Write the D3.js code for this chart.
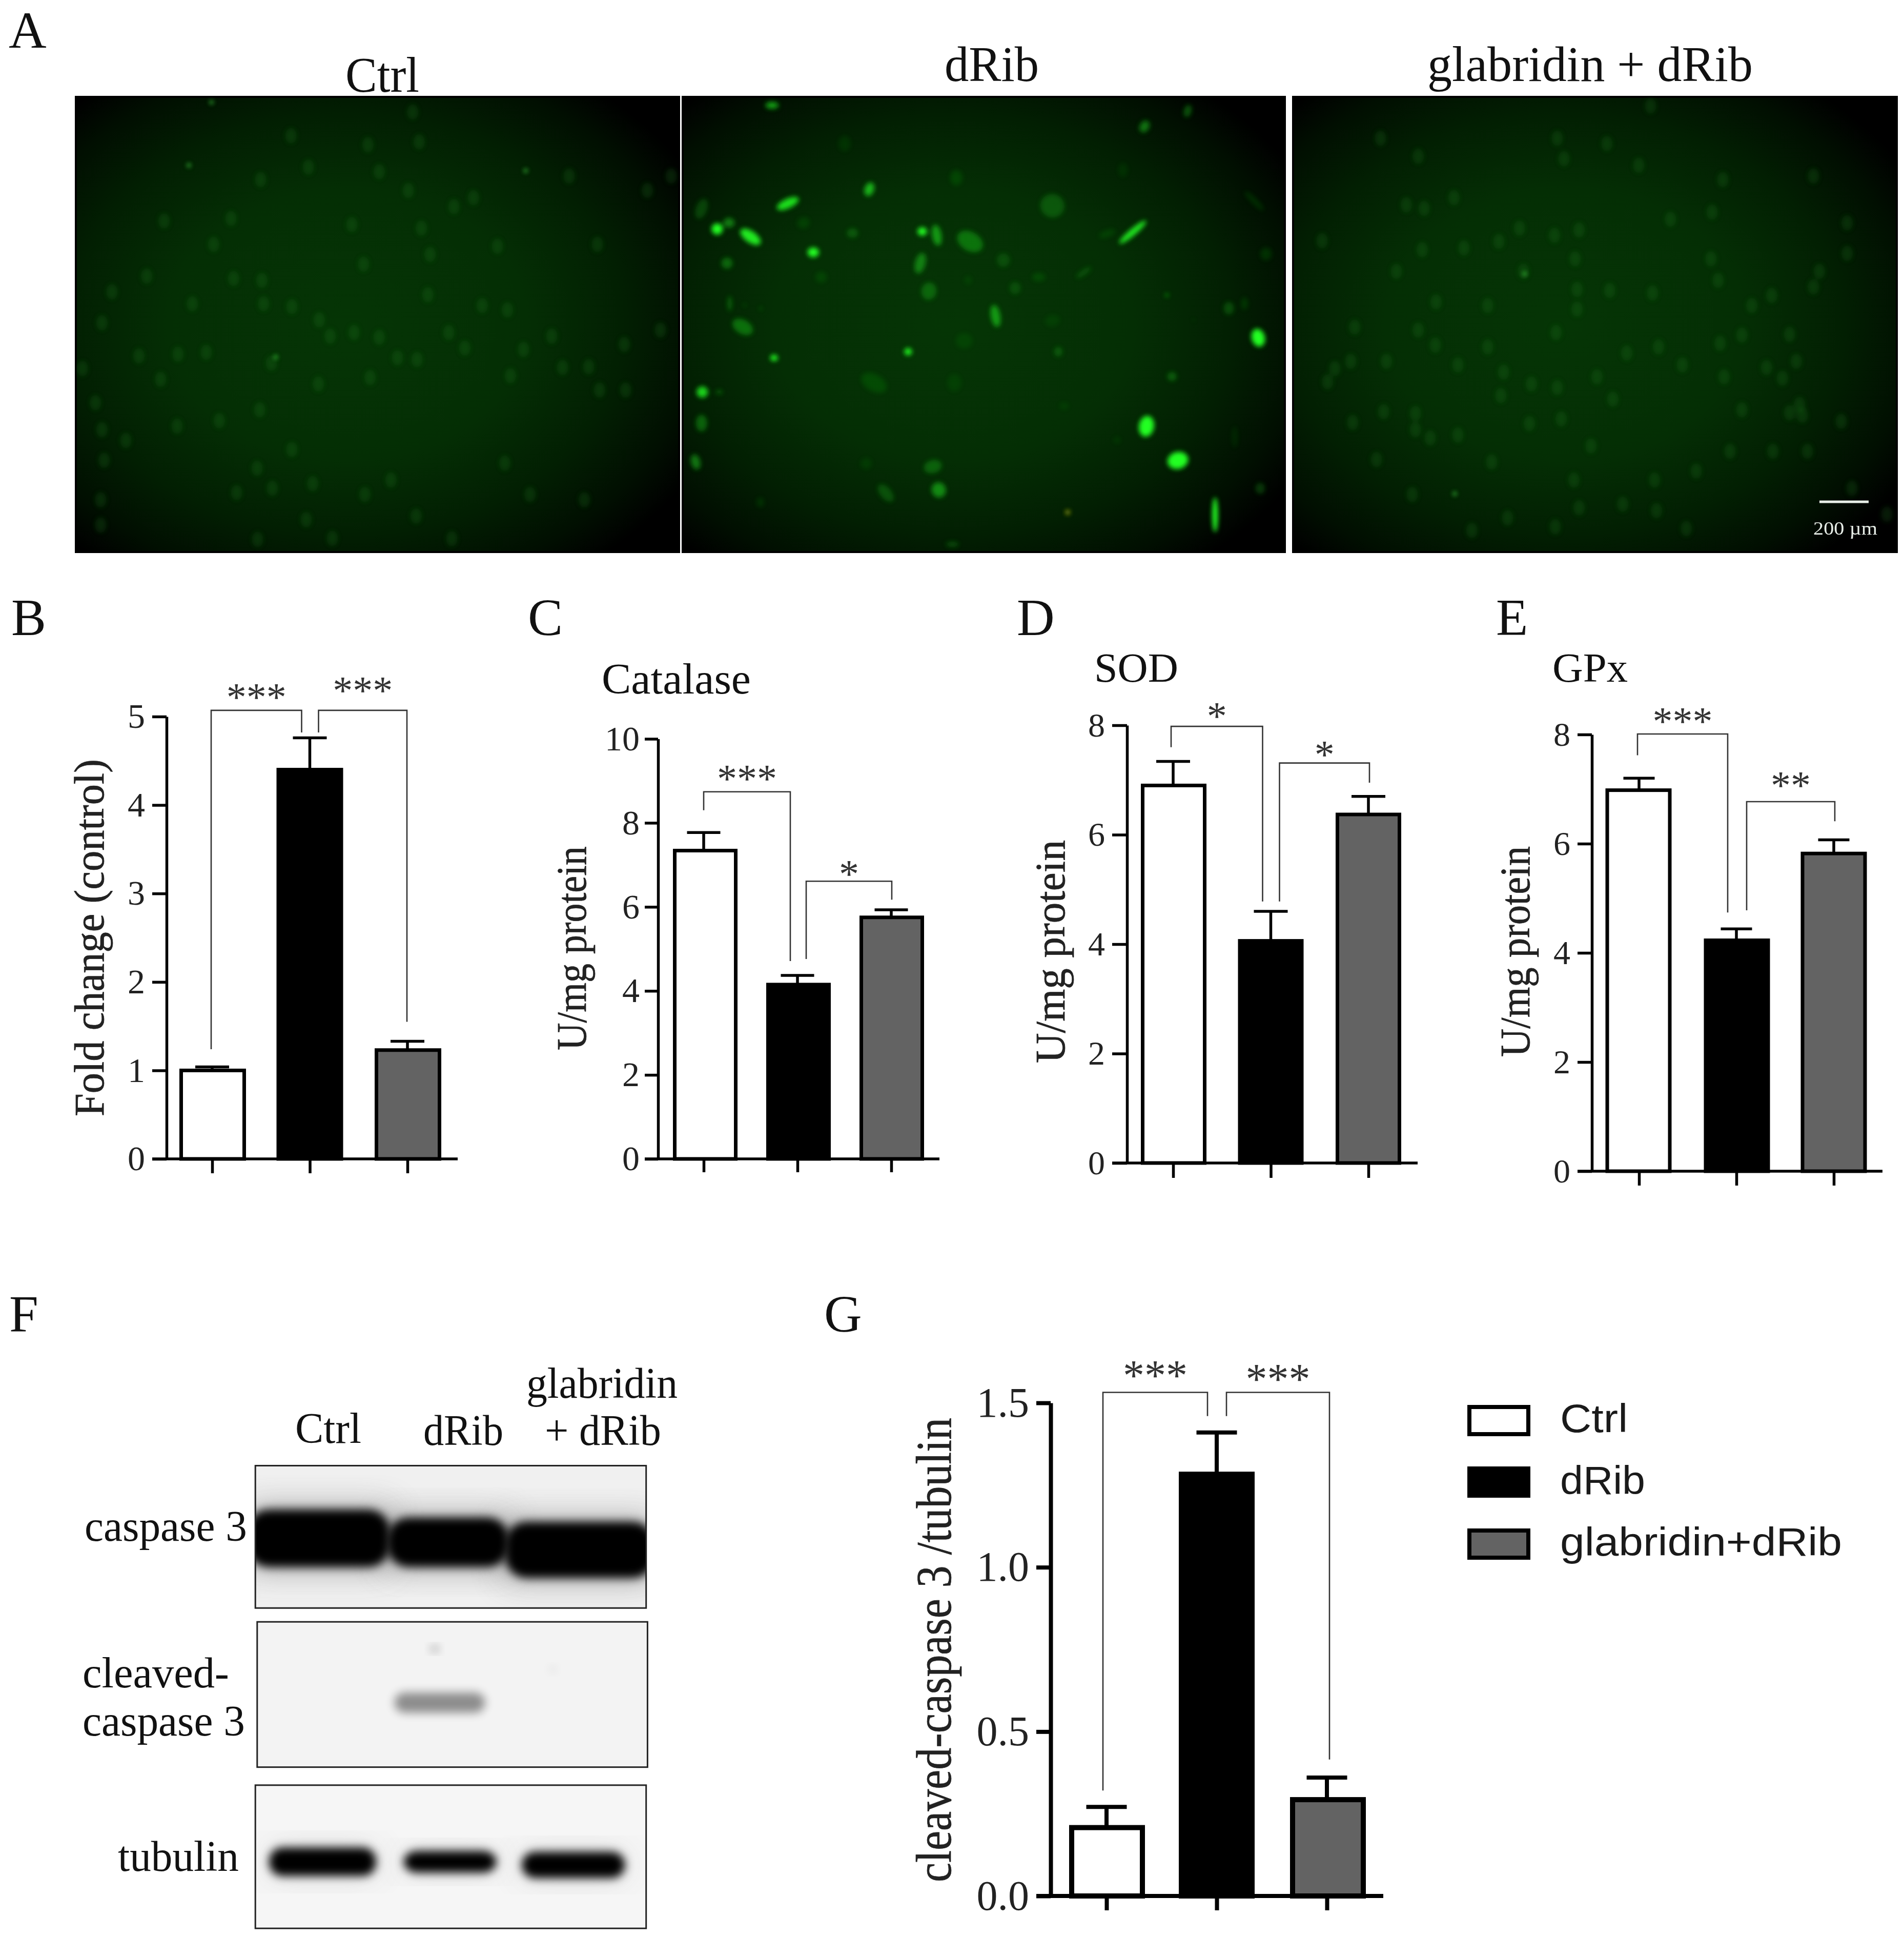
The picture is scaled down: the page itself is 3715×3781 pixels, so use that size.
<!DOCTYPE html>
<html>
<head>
<meta charset="utf-8">
<script src="https://cdn.jsdelivr.net/npm/d3@7"></script>
<style>
  html, body { margin: 0; background: #fff; overflow: hidden; }
  svg { display: block; }
</style>
</head>
<body>
<div id="chart"></div>
<script>
const width = 3715
const height = 3781
const serif = '"Liberation Serif", serif'
const sans = '"Liberation Sans", sans-serif'

const groups = ['Ctrl', 'dRib', 'glabridin+dRib']
const barFills = ['#fff', '#000', '#636363']

const foldChange = [1.0, 4.40, 1.23]
const foldChangeErr = [1.04, 4.76, 1.33]
const catalase = [7.34, 4.15, 5.75]
const catalaseErr = [7.77, 4.37, 5.93]
const sod = [6.90, 4.06, 6.37]
const sodErr = [7.34, 4.60, 6.70]
const gpx = [6.98, 4.23, 5.82]
const gpxErr = [7.20, 4.44, 6.07]
const cleaved = [0.208, 1.283, 0.293]
const cleavedErr = [0.271, 1.41, 0.36]

// significance brackets: top, left leg end, right leg end, star height (axis units), stars
const foldSig = [[5.07, 1.24, 4.82, 5.28, '***'], [5.07, 4.82, 1.55, 5.36, '***']]
const catalaseSig = [[8.74, 8.30, 4.71, 9.18, '***'], [6.61, 4.76, 6.17, 6.91, '*']]
const sodSig = [[7.98, 7.60, 4.78, 8.27, '*'], [7.31, 4.78, 6.95, 7.57, '*']]
const gpxSig = [[8.01, 7.62, 4.74, 8.34, '***'], [6.77, 4.78, 6.41, 7.17, '**']]
const cleavedSig = [[1.532, 0.321, 1.46, 1.60, '***'], [1.532, 1.46, 0.415, 1.589, '***']]

// micrograph cells: x, y, rx, ry, angle, brightness
const dribCells = [
  [130,490,12,16,-30,1],[160,470,12,14,0,.4],[215,515,12,34,-55,.9],[310,408,10,34,65,.85],
  [375,565,12,14,0,1],[518,362,10,20,20,.65],[270,92,14,10,0,.6],[275,905,8,9,0,1],[617,885,8,10,0,1],
  [653,498,10,12,0,1],[690,510,10,30,-10,.5],[775,530,20,40,-60,.32],[648,600,11,30,15,.38],
  [670,690,16,25,10,.25],[840,770,10,32,-10,.5],[985,415,25,35,-70,.2],[1190,500,7,50,50,.9],
  [1220,160,10,18,30,.4],[1330,110,8,18,15,.3],[1510,840,14,26,-15,1],[1225,1125,16,30,10,1],
  [1305,1235,18,30,75,1],[1400,1410,6,50,0,1],[92,1015,12,16,0,.8],[90,1115,12,24,0,.3],
  [75,1240,10,22,-15,.4],[195,805,15,32,-60,.33],[155,600,12,16,0,.3],[90,425,12,30,20,.18],
  [475,503,12,14,0,.2],[162,730,5,22,0,.25],[680,1255,14,26,75,.25],[695,1330,15,22,-20,.45],
  [560,1340,12,30,-40,.2],[1000,885,9,14,0,.2],[1290,965,10,13,0,.25],[1435,745,11,18,0,.2],
  [1515,1325,10,16,0,.2],[1530,570,12,18,0,.12],[530,985,18,40,-60,.12],[740,325,13,22,0,.12],
  [455,215,13,22,0,.08],[860,590,14,20,0,.14],[890,680,12,18,0,.14],[1065,630,6,26,55,.16],
  [950,645,14,12,0,.12],[1500,400,6,38,-45,.12],[350,470,12,18,70,.1],[135,1015,8,6,0,.25],
  [1165,300,10,20,0,.07],[395,645,12,16,0,.1],[770,655,8,12,0,.08],[760,850,18,22,0,.08],
  [735,985,15,25,0,.07],[510,1245,12,16,0,.08],[240,1370,8,14,0,.1],[1015,1060,10,10,0,.07],
  [1475,730,7,18,0,.12],[1450,1160,6,30,0,.08],[1150,1170,8,10,0,.07],[1125,505,8,25,70,.1],
  [730,1505,14,8,0,.2],[985,785,12,22,80,.07],
  [1277,703,3,3,0,1],[241,746,2,2,0,.8],[200,735,2,2,0,.6],[1345,783,2,2,0,.3]
]
const ctrlCells = [
  [950,312],[965,395],[847,403],[670,378],[873,478],[710,465],[600,500],[940,530],[1310,490],[378,615],
  [532,608],[810,625],[492,680],[970,635],[990,708],[837,735],[603,780],[538,775],[338,768],[258,812],
  [443,845],[607,845],[672,853],[735,890],[760,935],[873,938],[815,925],[1033,925],[1168,862],[1110,850],
  [1045,575],[1090,550],[1145,685],[1375,680],[1490,530],[1545,490],[915,995],[960,1000],[852,1050],[733,1068],
  [625,1010],[475,980],[410,985],[320,990],[370,1055],[190,1025],[220,1120],[235,1195],[290,1225],[408,1185],
  [505,1170],[598,1140],[240,1280],[592,1302],[627,1358],[545,1370],[720,1345],[840,1375],[900,1335],[958,1435],
  [705,1445],[765,1497],[593,1500],[1162,1288],[1220,1375],[1345,1390],[1175,1045],[1295,1022],[1355,1020],[1440,1085],
  [1380,1085],[1070,968],[1205,972],[1270,935],[1437,958],[1520,918],[232,1390],[232,1460],[235,898],[1040,1498],
  [985,820],[672,1250]
]
const ctrlDots = [[635,993],[435,460],[1210,475],[487,285]]
const glabCells = [
  [250,385],[345,435],[435,550],[315,570],[360,580],[695,385],[712,442],[820,400],[900,460],[1112,500],
  [1340,490],[980,610],[1085,590],[600,635],[548,672],[688,655],[750,640],[355,695],[460,690],[103,670],
  [740,720],[1082,720],[1100,780],[1425,620],[1425,705],[290,755],[610,755],[745,805],[827,808],[935,815],
  [1185,850],[1235,822],[1340,798],[1355,755],[390,840],[520,850],[745,860],[185,910],[345,918],[388,960],
  [520,965],[692,925],[870,982],[950,965],[1105,955],[1160,932],[1280,930],[265,1005],[135,1025],[175,1005],
  [117,1062],[445,1015],[560,1035],[795,1048],[1010,1015],[1115,1048],[1222,1022],[1297,1005],[1262,1052],[630,1068],
  [695,1078],[553,1100],[835,1110],[1160,1140],[1280,1148],[1305,1125],[1312,1155],[1410,1172],[258,1145],[338,1150],
  [180,1175],[338,1195],[375,1218],[445,1210],[625,1178],[705,1165],[780,1240],[1130,1255],[1238,1255],[1325,1255],
  [240,1278],[530,1285],[737,1335],[1045,1310],[940,1335],[1437,1358],[330,1375],[860,1402],[750,1412],[945,1420],
  [1020,1470],[690,1465],[570,1440],[480,1475],[1525,1430],[930,295]
]
const glabDots = [[613,762],[437,1373]]

// western blot bands: x0, x1, y0, y1, darkness
const caspaseBands = [[540,852,545,682,1],[846,1112,564,682,1],[1104,1430,574,708,1]]
const cleavedBands = [[862,1060,982,1030,.42],[940,960,870,885,.3],[1200,1216,918,934,.08]]
const tubulinBands = [[588,822,1352,1420,1],[882,1085,1360,1412,1],[1140,1366,1362,1425,1]]

const svg = d3.select('#chart').append('svg').attr('width', width).attr('height', height)
const defs = svg.append('defs')

function blur(id, sd) {
  defs.append('filter').attr('id', id)
    .attr('x', '-60%').attr('y', '-60%').attr('width', '220%').attr('height', '220%')
    .append('feGaussianBlur').attr('stdDeviation', sd)
}
blur('soft4', 4)
blur('soft5', 5)
blur('soft9', 9)
blur('soft32', 32)

const glow = defs.append('radialGradient').attr('id', 'glow').attr('cx', '45%').attr('cy', '50%').attr('r', '66%')
glow.selectAll('stop')
  .data([['0%', '#053505'], ['45%', '#042e04'], ['70%', '#021f02'], ['88%', '#010f01'], ['100%', '#000']])
  .join('stop')
  .attr('offset', d => d[0])
  .attr('stop-color', d => d[1])

function text(parent, str, x0, x1, y, size, family) {
  return parent.append('text')
    .attr('x', x0).attr('y', y)
    .attr('font-family', family || serif)
    .attr('font-size', size)
    .attr('textLength', x1 - x0)
    .attr('lengthAdjust', 'spacingAndGlyphs')
    .attr('fill', '#111')
    .text(str)
}

function sideLabel(str, x, y0, y1, size) {
  svg.append('text')
    .attr('transform', `translate(${x},${y1}) rotate(-90)`)
    .attr('font-family', serif)
    .attr('font-size', size)
    .attr('textLength', y1 - y0)
    .attr('lengthAdjust', 'spacingAndGlyphs')
    .attr('fill', '#222')
    .attr('stroke', '#222')
    .attr('stroke-width', 0.7)
    .text(str)
}

// panel letters
const panelLetters = ['A', 'B', 'C', 'D', 'E', 'F', 'G']
const letterX = [17, 22, 1030, 1984, 2919, 18, 1608]
const letterY = [93, 1239, 1239, 1239, 1239, 2598, 2598]
panelLetters.forEach((l, i) => {
  svg.append('text').attr('x', letterX[i]).attr('y', letterY[i])
    .attr('font-family', serif).attr('font-size', 102).attr('fill', '#111').text(l)
})

// --- A: micrographs
function field(x0, x1, readX0, readX1, cells, dots) {
  const y0 = 189
  const y1 = 1077
  const fx = d3.scaleLinear().domain([readX0, readX1]).range([x0, x1])
  const fy = d3.scaleLinear().domain([270, 1535]).range([y0, y1])
  const g = svg.append('g')
  g.append('rect').attr('x', x0).attr('y', y0).attr('width', x1 - x0).attr('height', y1 - y0).attr('fill', 'url(#glow)')
  g.append('rect').attr('x', x0).attr('y', y0).attr('width', x1 - x0).attr('height', y1 - y0)
    .attr('fill', 'none').attr('stroke', '#000').attr('stroke-width', 4)
  if (cells) {
    g.append('g').attr('filter', 'url(#soft5)').selectAll('ellipse').data(cells).join('ellipse')
      .attr('cx', d => fx(d[0])).attr('cy', d => fy(d[1]))
      .attr('rx', 11).attr('ry', 15)
      .attr('fill', '#2ea82e').attr('opacity', 0.17)
  }
  if (dots) {
    g.append('g').attr('filter', 'url(#soft4)').selectAll('circle').data(dots).join('circle')
      .attr('cx', d => fx(d[0])).attr('cy', d => fy(d[1])).attr('r', 4).attr('fill', '#4dff4d').attr('opacity', 0.6)
  }
  return g
}
field(148, 1325, 175, 1563, ctrlCells, ctrlDots)
const dribField = field(1332, 2507, 0, 1, null, null)
field(2523, 3701, 30, 1550, glabCells, glabDots)

const dribX = d3.scaleLinear().domain([42, 1578]).range([1332, 2507])
const dribY = d3.scaleLinear().domain([68, 1530]).range([191, 1077])
const cellSize = d3.scaleLinear().domain([0, 100]).range([0, 68])
dribField.append('g').attr('filter', 'url(#soft5)').selectAll('ellipse').data(dribCells).join('ellipse')
  .attr('transform', d => `translate(${dribX(d[0])},${dribY(d[1])}) rotate(${d[4]})`)
  .attr('rx', d => cellSize(d[2]) * 1.35).attr('ry', d => cellSize(d[3]))
  .attr('fill', '#22ff22').attr('opacity', d => d[5])
dribField.append('circle').attr('cx', dribX(1024)).attr('cy', dribY(1402)).attr('r', 5)
  .attr('fill', '#7a8a10').attr('filter', 'url(#soft4)')

text(svg, 'Ctrl', 674, 818, 179, 98)
text(svg, 'dRib', 1843, 2027, 158, 98)
text(svg, 'glabridin + dRib', 2785, 3420, 158, 98)

// scale bar
svg.append('line').attr('x1', 3550).attr('x2', 3646).attr('y1', 979).attr('y2', 979)
  .attr('stroke', '#e8eee8').attr('stroke-width', 5)
text(svg, '200 µm', 3538, 3663, 1043, 36).attr('fill', '#e6ece6')

// --- B-E, G: bar charts
function barPanel(p) {
  const x = d3.scalePoint().domain(groups).range(p.ticks)
  const y = d3.scaleLinear().domain([0, p.yMax]).range([p.y0, p.yTop])
  const g = svg.append('g')

  const yAxis = d3.axisLeft(y).tickValues(p.yTicks).tickFormat(p.fmt).tickSize(p.tick).tickSizeOuter(0).tickPadding(p.pad)
  const ya = g.append('g').attr('transform', `translate(${p.axisX},0)`).call(yAxis)
  ya.select('.domain').attr('stroke', '#000').attr('stroke-width', p.sw)
  ya.selectAll('.tick line').attr('stroke', '#000').attr('stroke-width', p.sw)
  ya.selectAll('.tick text').attr('font-family', serif).attr('font-size', p.tickFont).attr('fill', '#222')

  // error bars go behind the bars
  const errs = g.append('g').attr('stroke', '#000')
  errs.selectAll('line.stem').data(p.values).join('line').attr('class', 'stem')
    .attr('x1', (_, i) => x(groups[i])).attr('x2', (_, i) => x(groups[i]))
    .attr('y1', d => y(d)).attr('y2', (_, i) => y(p.errs[i]))
    .attr('stroke-width', p.sw)
  errs.selectAll('line.cap').data(p.errs).join('line').attr('class', 'cap')
    .attr('x1', (_, i) => x(groups[i]) - p.cap / 2).attr('x2', (_, i) => x(groups[i]) + p.cap / 2)
    .attr('y1', d => y(d)).attr('y2', d => y(d))
    .attr('stroke-width', p.sw)

  g.append('g').selectAll('rect').data(p.values).join('rect')
    .attr('x', (_, i) => x(groups[i]) + p.barDx[i] - (p.barW - p.barSw) / 2)
    .attr('y', d => y(d))
    .attr('width', p.barW - p.barSw)
    .attr('height', d => y(0) - y(d))
    .attr('fill', (_, i) => barFills[i])
    .attr('stroke', '#000').attr('stroke-width', p.barSw)

  const xAxis = d3.axisBottom(x).tickSize(p.tick).tickSizeOuter(0).tickFormat('')
  const xa = g.append('g').attr('transform', `translate(0,${p.y0})`).call(xAxis)
  xa.select('.domain').remove()
  xa.selectAll('.tick line').attr('stroke', '#000').attr('stroke-width', p.sw)
  g.append('line').attr('x1', p.lineFrom).attr('x2', p.lineTo).attr('y1', y(0)).attr('y2', y(0))
    .attr('stroke', '#000').attr('stroke-width', p.sw)

  const sig = g.append('g')
  p.sig.forEach((s, i) => {
    const [a, b] = i === 0 ? [0, 1] : [1, 2]
    const xa = x(groups[a]) + p.sigDx[i][0]
    const xb = x(groups[b]) + p.sigDx[i][1]
    sig.append('path')
      .attr('d', d3.line()([[xa, y(s[1])], [xa, y(s[0])], [xb, y(s[0])], [xb, y(s[2])]]))
      .attr('fill', 'none').attr('stroke', '#333').attr('stroke-width', 2.6)
    sig.append('text')
      .attr('x', (xa + xb) / 2).attr('y', y(s[3]) + p.starFont * 0.47)
      .attr('text-anchor', 'middle')
      .attr('font-family', serif).attr('font-size', p.starFont).attr('fill', '#333')
      .text(s[4])
  })
}

barPanel({
  values: foldChange, errs: foldChangeErr, sig: foldSig,
  yMax: 5, yTicks: [0, 1, 2, 3, 4, 5], fmt: d3.format('d'),
  ticks: [414, 795], barDx: [1, 0, 1], barW: 130, cap: 66,
  y0: 2261, yTop: 1398, axisX: 325, lineFrom: 297, lineTo: 893,
  tick: 28, pad: 14, sw: 5.5, barSw: 7, tickFont: 68, starFont: 78,
  sigDx: [[-2, -16], [17, -1]]
})
barPanel({
  values: catalase, errs: catalaseErr, sig: catalaseSig,
  yMax: 10, yTicks: [0, 2, 4, 6, 8, 10], fmt: d3.format('d'),
  ticks: [1373, 1739], barDx: [3, 2, 1], barW: 126, cap: 65,
  y0: 2261, yTop: 1441.5, axisX: 1284, lineFrom: 1258, lineTo: 1833,
  tick: 26, pad: 10, sw: 5.5, barSw: 7, tickFont: 68, starFont: 78,
  sigDx: [[0, -14], [17, 1]]
})
barPanel({
  values: sod, errs: sodErr, sig: sodSig,
  yMax: 8, yTicks: [0, 2, 4, 6, 8], fmt: d3.format('d'),
  ticks: [2289, 2670], barDx: [1, 0, 0], barW: 128, cap: 66,
  y0: 2269, yTop: 1415, axisX: 2199, lineFrom: 2170, lineTo: 2766,
  tick: 29, pad: 14, sw: 5.5, barSw: 7, tickFont: 66, starFont: 78,
  sigDx: [[-4, -16], [17, 2]]
})
barPanel({
  values: gpx, errs: gpxErr, sig: gpxSig,
  yMax: 8, yTicks: [0, 2, 4, 6, 8], fmt: d3.format('d'),
  ticks: [3198, 3578], barDx: [-1, 1, 0], barW: 129, cap: 61,
  y0: 2285, yTop: 1433, axisX: 3106, lineFrom: 3078, lineTo: 3673,
  tick: 28, pad: 14, sw: 5.5, barSw: 7, tickFont: 66, starFont: 78,
  sigDx: [[-3, -17], [20, 2]]
})
barPanel({
  values: cleaved, errs: cleavedErr, sig: cleavedSig,
  yMax: 1.5, yTicks: [0, 0.5, 1, 1.5], fmt: d3.format('.1f'),
  ticks: [2159, 2589], barDx: [1, 0, 2], barW: 148, cap: 79,
  y0: 3699, yTop: 2737, axisX: 2050, lineFrom: 2022, lineTo: 2699,
  tick: 28, pad: 14, sw: 8, barSw: 10, tickFont: 82, starFont: 84,
  sigDx: [[-7, -18], [19, 5]]
})

sideLabel('Fold change (control)', 202, 1481, 2178, 82)
sideLabel('U/mg protein', 1143, 1651, 2049, 82)
sideLabel('U/mg protein', 2077, 1639, 2074, 82)
sideLabel('U/mg protein', 2984, 1651, 2062, 82)
sideLabel('cleaved-caspase 3 /tubulin', 1855, 2766, 3672, 98)

text(svg, 'Catalase', 1174, 1465, 1353, 84)
text(svg, 'SOD', 2135, 2299, 1330, 80)
text(svg, 'GPx', 3029, 3176, 1330, 80)

// legend
const legendNames = ['Ctrl', 'dRib', 'glabridin+dRib']
const legendEnd = [3176, 3210, 3594]
const legendTop = [2741, 2861, 2982]
const legendBase = [2794, 2915, 3035]
legendNames.forEach((name, i) => {
  svg.append('rect').attr('x', 2867).attr('y', legendTop[i] + 4).attr('width', 115).attr('height', 53)
    .attr('fill', barFills[i]).attr('stroke', '#000').attr('stroke-width', 8)
  text(svg, name, 3044, legendEnd[i], legendBase[i], 78, sans).attr('fill', '#1a1a1a')
})

// --- F: western blots
const blotX = d3.scaleLinear().domain([0, 1568]).range([0, 1400])
const blotY = d3.scaleLinear().domain([0, 1568]).range([2500, 3781])

function blot(id, x0, x1, y0, y1, bg, bands, halo, round) {
  const bx = blotX(x0)
  const by = blotY(y0)
  const bw = blotX(x1) - bx
  const bh = blotY(y1) - by
  defs.append('clipPath').attr('id', id).append('rect').attr('x', bx).attr('y', by).attr('width', bw).attr('height', bh)
  const g = svg.append('g').attr('clip-path', `url(#${id})`)
  g.append('rect').attr('x', bx).attr('y', by).attr('width', bw).attr('height', bh).attr('fill', bg)
  const rect = (sel, d) => sel
    .attr('x', blotX(d[0])).attr('width', blotX(d[1]) - blotX(d[0]))
    .attr('y', blotY(d[2])).attr('height', blotY(d[3]) - blotY(d[2]))
  if (halo) {
    bands.forEach(d => {
      g.append('rect').call(rect, d).attr('fill', '#555').attr('opacity', halo).attr('filter', 'url(#soft32)')
    })
  }
  bands.forEach(d => {
    g.append('rect').call(rect, d).attr('rx', round).attr('fill', '#000').attr('opacity', d[4]).attr('filter', 'url(#soft9)')
  })
  svg.append('rect').attr('x', bx).attr('y', by).attr('width', bw).attr('height', bh)
    .attr('fill', 'none').attr('stroke', '#222').attr('stroke-width', 3)
}
blot('blot1', 558, 1412, 440, 780, '#f0f0f0', caspaseBands, 0.6, 42)
blot('blot2', 562, 1415, 813, 1160, '#f3f3f3', cleavedBands, 0, 20)
blot('blot3', 558, 1412, 1203, 1545, '#f6f6f6', tubulinBands, 0.18, 26)

text(svg, 'Ctrl', 576, 705, 2815, 84)
text(svg, 'dRib', 826, 982, 2819, 84)
text(svg, 'glabridin', 1027, 1322, 2727, 84)
text(svg, '+ dRib', 1063, 1290, 2819, 84)
text(svg, 'caspase 3', 165, 482, 3006, 84)
text(svg, 'cleaved-', 161, 447, 3292, 84)
text(svg, 'caspase 3', 161, 478, 3386, 84)
text(svg, 'tubulin', 230, 466, 3650, 84)
</script>
</body>
</html>
